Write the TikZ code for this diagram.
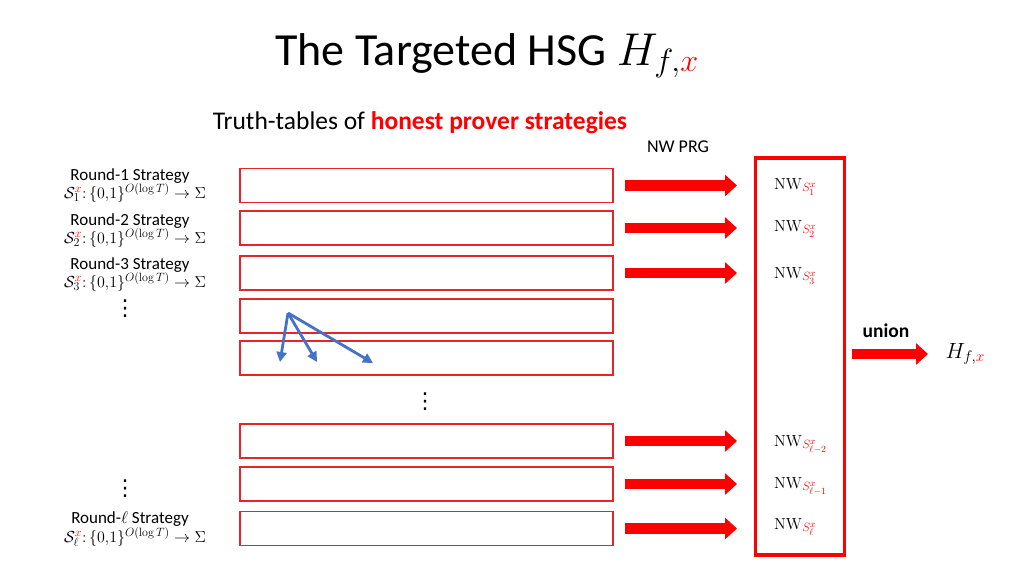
\RequirePackage{fix-cm}
\documentclass[tikz,border=0pt]{standalone}
\usepackage[no-math]{fontspec}
\setmainfont{Carlito}
\newfontfamily\djv{DejaVu Sans}
\usetikzlibrary{arrows.meta}
\DeclareMathSizes{16}{16}{12}{9.5}
\DeclareMathSizes{17}{17}{12.5}{10}
\definecolor{pred}{RGB}{255,0,0}
\definecolor{bred}{RGB}{228,38,38}
\definecolor{pblue}{RGB}{68,114,196}
\newcommand\Sx[1]{\mathcal{S}_{#1}^{\textcolor{pred}{x}}}
\newcommand\NWS[1]{\mathrm{NW}_{\textcolor{pred}{S_{#1}^{x}}}}
\newcommand\fml[1]{$\Sx{#1}\colon\{0{,}1\}^{O(\log T)}\to\Sigma$}
\begin{document}
\begin{tikzpicture}[x=1pt,y=-1pt,
  tt/.style={draw=bred, line width=1.3pt, minimum width=373pt, minimum height=34pt, inner sep=0pt},
  bigarr/.style={draw=pred, line width=10.5pt, -{Triangle[length=12pt,width=21pt]}},
  blarr/.style={draw=pblue, line width=2.8pt, -{Triangle[length=10pt,width=10pt]}},
  lab/.style={font=\fontsize{17}{19}\selectfont, anchor=base, inner sep=0pt},
  fm/.style={font=\fontsize{16}{19}\selectfont, anchor=base, inner sep=0pt},
  nw/.style={font=\fontsize{16}{19}\selectfont, anchor=base west, inner sep=0pt},
  dts/.style={font=\djv\fontsize{22}{22}\selectfont, inner sep=0pt}]
\useasboundingbox (0,0) rectangle (1024,576);

% title and subtitle
\node[font=\fontsize{46}{50}\selectfont, anchor=base] (title) at (487,65) {The Targeted HSG $H_{f,\textcolor{pred}{x}}$};
\node[font=\fontsize{25.5}{28}\selectfont, anchor=base] (sub) at (420,129) {Truth-tables of \textcolor{pred}{\bfseries honest prover strategies}};
\node[font=\fontsize{18}{20}\selectfont] (prg) at (678,147) {NW PRG};

% left labels
\node[lab] (l1) at (130,180) {Round-1 Strategy};
\node[fm] (f1) at (135,198) {\fml{1}};
\node[lab] (l2) at (130,225) {Round-2 Strategy};
\node[fm] (f2) at (135,243) {\fml{2}};
\node[lab] (l3) at (130,269) {Round-3 Strategy};
\node[fm] (f3) at (135,287) {\fml{3}};
\node[lab] (l8) at (130,523) {Round-$\ell$ Strategy};
\node[fm] (f8) at (135,542) {\fml{\ell}};
\node[dts] (d1) at (125,309) {⋮};
\node[dts] (d2) at (125,489) {⋮};
\node[dts] (d3) at (425,402) {⋮};

% truth tables
\node[tt] (r1) at (426.5,185.5) {};
\node[tt] (r2) at (426.5,228) {};
\node[tt] (r3) at (426.5,273) {};
\node[tt] (r4) at (426.5,316) {};
\node[tt] (r5) at (426.5,358) {};
\node[tt] (r6) at (426.5,441) {};
\node[tt] (r7) at (426.5,484) {};
\node[tt] (r8) at (426.5,528.5) {};

% union box
\node[draw=pred, line width=3.5pt, minimum width=89pt, minimum height=397pt, inner sep=0pt] (box) at (800,356.5) {};

% NW labels
\node[nw] (nw1) at (774,189) {$\NWS{1}$};
\node[nw] (nw2) at (774,231) {$\NWS{2}$};
\node[nw] (nw3) at (774,278) {$\NWS{3}$};
\node[nw] (nw6) at (774,446) {$\NWS{\ell-2}$};
\node[nw] (nw7) at (774,488) {$\NWS{\ell-1}$};
\node[nw] (nw8) at (774,529) {$\NWS{\ell}$};

% big arrows
\foreach \i in {1,2,3,6,7,8}{
  \draw[bigarr] ([xshift=11pt]r\i.east) -- ([xshift=-37pt]r\i.east -| nw\i.west);
}

% union arrow and result
\node[font=\fontsize{22}{24}\selectfont, anchor=west] (hfx) at (942,354) {$H_{f,\textcolor{pred}{x}}$};
\node[font=\bfseries\fontsize{19.5}{20}\selectfont] (un) at (886,331) {union};
\draw[bigarr] ([xshift=6pt]box.east |- hfx.west) -- ([xshift=-14pt]hfx.west);

% blue arrows
\coordinate (b0) at (288,313);
\coordinate (b1) at (280,362);
\coordinate (b2) at (317,362);
\coordinate (b3) at (373,363);
\draw[blarr] (b0) -- (b1);
\draw[blarr] (b0) -- (b2);
\draw[blarr] (b0) -- (b3);
\end{tikzpicture}
\end{document}
